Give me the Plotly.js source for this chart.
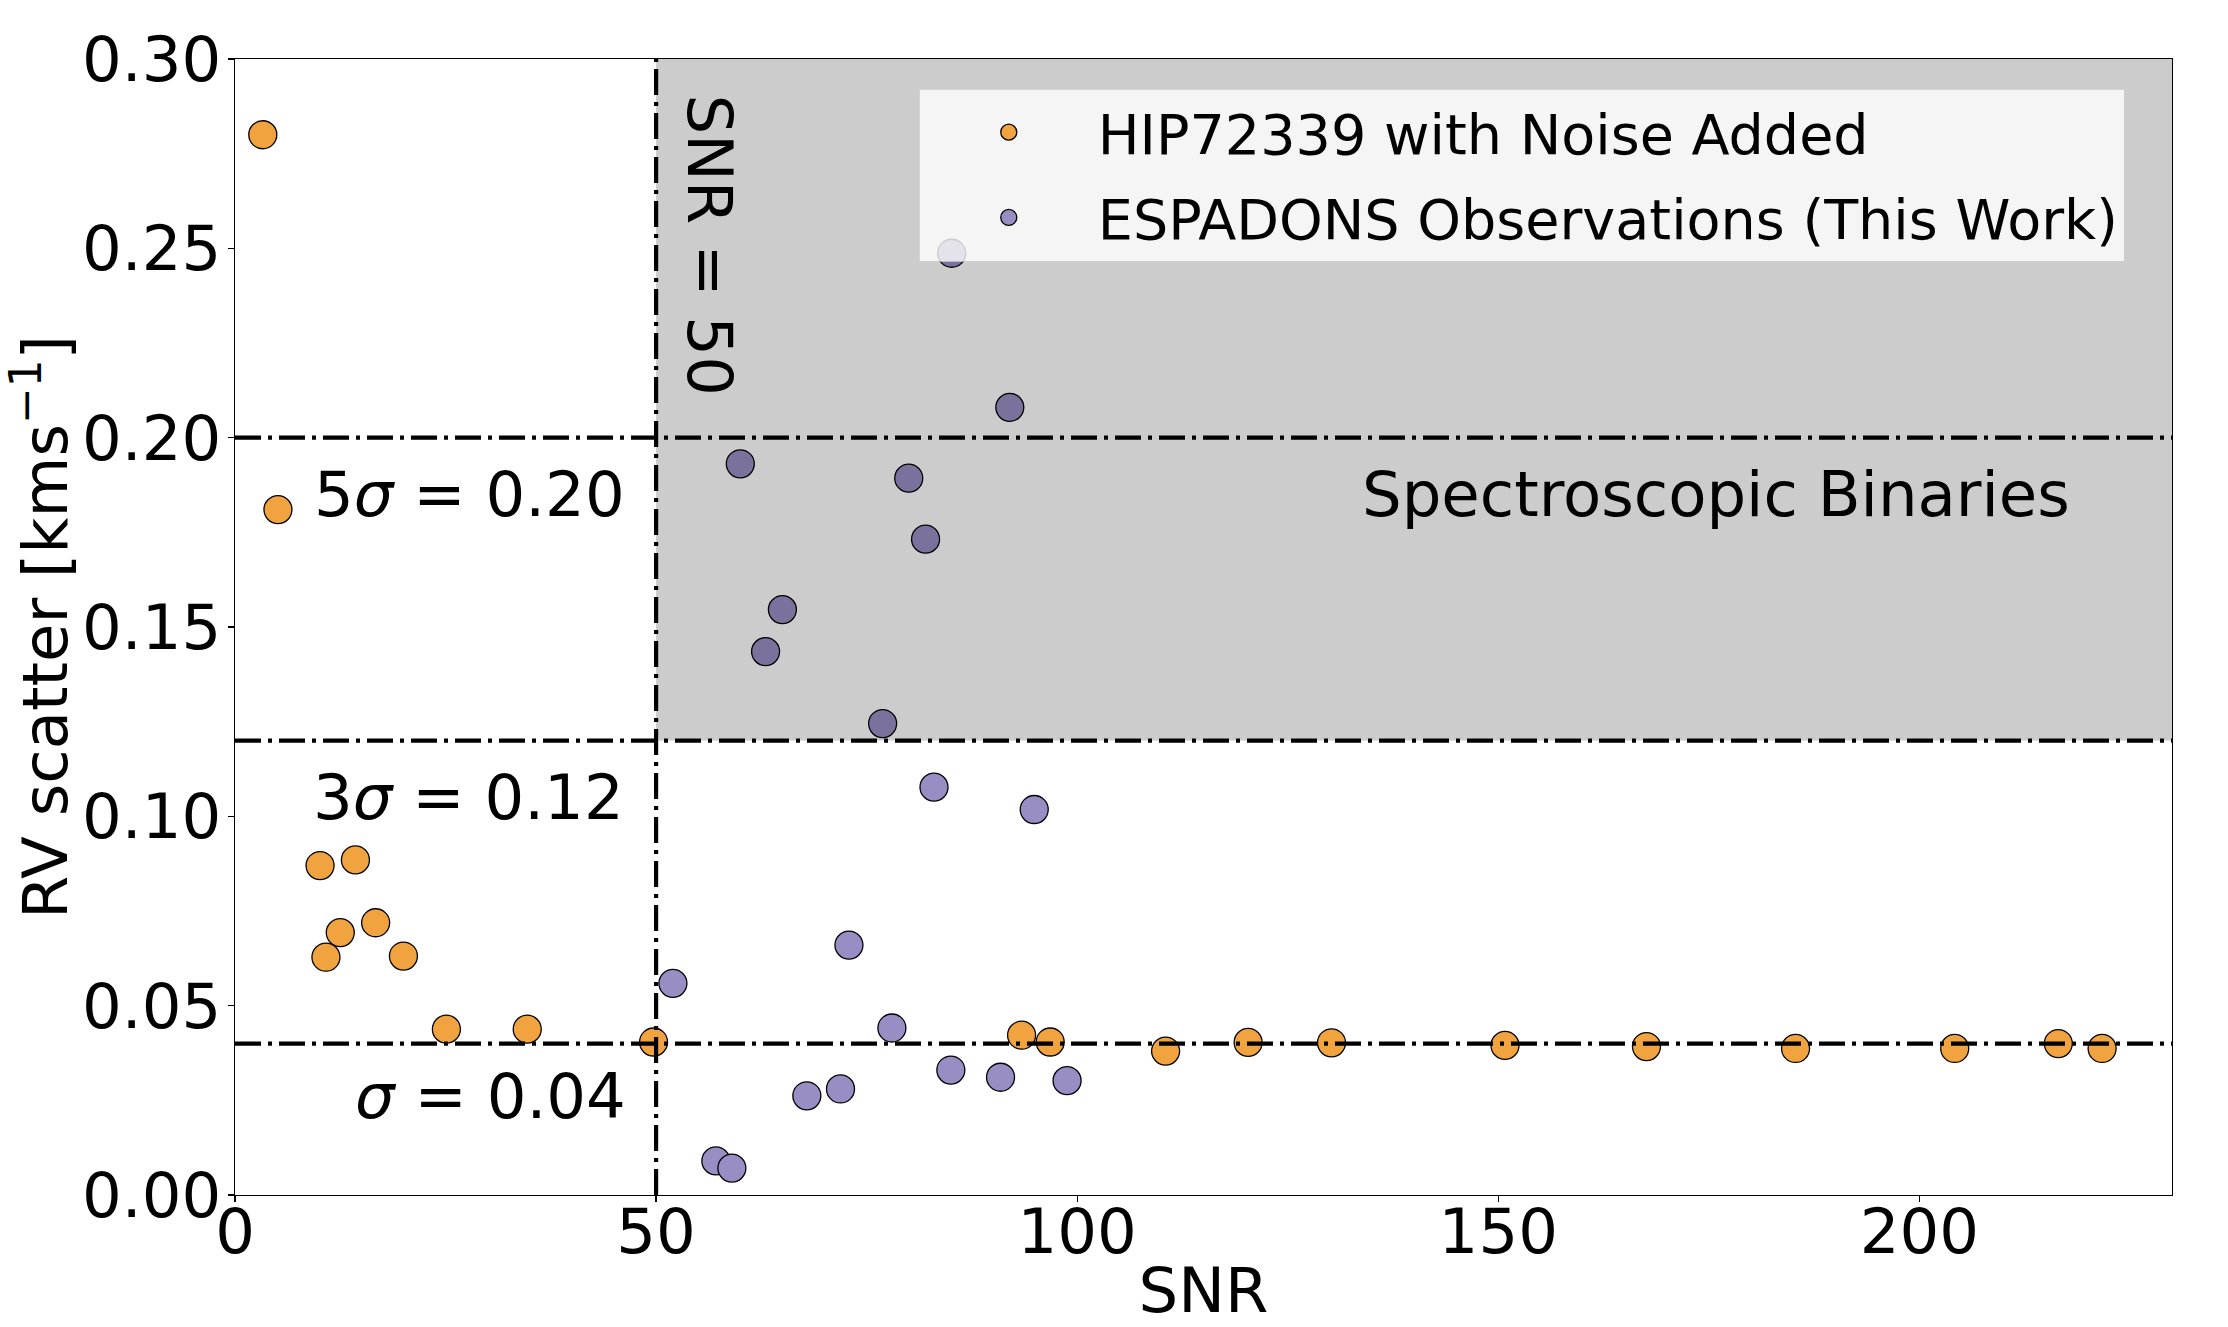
<!DOCTYPE html>
<html>
<head>
<meta charset="utf-8">
<script src="https://cdn.plot.ly/plotly-3.0.1.min.js"></script>
<style>
  html, body { margin: 0; padding: 0; background: #fff; }
  #chart { width: 2228px; height: 1327px; }
</style>
</head>
<body>
<div id="chart"></div>
<script>
// HIP72339 with noise added
const hipSnr = [3.3, 5.1, 10.1, 10.8, 12.5, 14.3, 16.7, 20.0, 25.1, 34.7, 49.7,
  93.4, 96.8, 110.5, 120.3, 130.2, 150.8, 167.6, 185.3, 204.2, 216.5, 221.7];
const hipScatter = [0.280, 0.181, 0.087, 0.0628, 0.0693, 0.0885, 0.0719, 0.0631, 0.0438, 0.0438, 0.0404,
  0.0422, 0.0404, 0.0380, 0.0403, 0.0402, 0.0395, 0.0392, 0.0387, 0.0387, 0.0400, 0.0387];

// ESPADONS observations
const espSnr = [52.0, 57.1, 59.0, 67.9, 71.9, 72.9, 78.0, 85.0, 90.9, 98.8,
  94.9, 83.0, 76.9, 63.0, 65.0, 82.0, 80.0, 60.0, 92.0, 85.1];
const espScatter = [0.0559, 0.0090, 0.0071, 0.0262, 0.0280, 0.0660, 0.0441, 0.0330, 0.0311, 0.0302,
  0.1018, 0.1077, 0.1245, 0.1435, 0.1546, 0.1732, 0.1893, 0.1931, 0.2080, 0.2487];

// thresholds
const sigmaLevels = [0.04, 0.12, 0.20];
const snrCut = 50;
const xMax = 230;
const yMax = 0.30;

const xTicks = [0, 50, 100, 150, 200];
const yTicks = [0, 0.05, 0.10, 0.15, 0.20, 0.25, 0.30];

const FONT = 'DejaVu Sans, sans-serif';
const BIG = 62.5;
const dashDot = '26px,7px,4px,7px';

const markerStyle = function(col) {
  return { color: col, size: 28, line: { color: '#000', width: 1.3 } };
};

const traces = [{
  x: hipSnr, y: hipScatter,
  mode: 'markers', type: 'scatter',
  name: 'HIP72339 with Noise Added',
  legendgroup: 'hip',
  marker: markerStyle('#f1a340'),
  cliponaxis: false
}, {
  x: espSnr, y: espScatter,
  mode: 'markers', type: 'scatter',
  name: 'ESPADONS Observations (This Work)',
  legendgroup: 'esp',
  marker: markerStyle('#998ec3'),
  cliponaxis: false
}];

// shaded region + reference lines
const shapes = [{
  type: 'rect', layer: 'above', xref: 'x', yref: 'y',
  x0: snrCut, x1: xMax, y0: sigmaLevels[1], y1: yMax,
  fillcolor: 'rgba(0,0,0,0.2)', line: { width: 0 }
}];
sigmaLevels.forEach(function(lv) {
  shapes.push({
    type: 'line', layer: 'above', xref: 'x', yref: 'y',
    x0: 0, x1: xMax, y0: lv, y1: lv,
    line: { color: '#000', width: 4.2, dash: dashDot }
  });
});
shapes.push({
  type: 'line', layer: 'above', xref: 'x', yref: 'y',
  x0: snrCut, x1: snrCut, y0: 0, y1: yMax,
  line: { color: '#000', width: 4.2, dash: dashDot }
});

const annFont = { family: FONT, size: BIG, color: '#000' };
const annotations = [
  { x: 46.5, y: 0.185, text: '5<i>σ</i> = 0.20', xanchor: 'right', yanchor: 'middle' },
  { x: 46.4, y: 0.105, text: '3<i>σ</i> = 0.12', xanchor: 'right', yanchor: 'middle' },
  { x: 46.7, y: 0.026, text: '<i>σ</i> = 0.04', xanchor: 'right', yanchor: 'middle' },
  { x: 218.1, y: 0.185, text: 'Spectroscopic Binaries', xanchor: 'right', yanchor: 'middle' },
  { x: 56.3, y: 0.251, text: 'SNR = 50', textangle: 90, xanchor: 'center', yanchor: 'middle' }
].map(function(a) {
  return Object.assign({ xref: 'x', yref: 'y', showarrow: false, font: annFont }, a);
});

const layout = {
  width: 2228, height: 1327,
  margin: { l: 235, r: 56, t: 59, b: 132 },
  paper_bgcolor: '#fff',
  plot_bgcolor: '#fff',
  font: { family: FONT, color: '#000' },
  showlegend: true,
  legend: {
    x: 0.353, y: 0.974, xanchor: 'left', yanchor: 'top',
    bgcolor: 'rgba(255,255,255,0.8)',
    bordercolor: 'rgba(204,204,204,0.8)', borderwidth: 1,
    font: { family: FONT, size: 55.6, color: '#000' },
    itemwidth: 168,
    tracegroupgap: 10
  },
  xaxis: {
    range: [0, xMax],
    tickvals: xTicks,
    ticktext: xTicks.map(String),
    ticks: 'outside', ticklen: 6, tickwidth: 1.3, tickcolor: '#000',
    ticklabelstandoff: -24,
    tickfont: { family: FONT, size: BIG },
    showgrid: false, zeroline: false,
    showline: true, linecolor: '#000', linewidth: 1.3, mirror: true,
    title: { text: 'SNR', font: { family: FONT, size: BIG }, standoff: 28 }
  },
  yaxis: {
    range: [0, yMax],
    tickvals: yTicks,
    ticktext: yTicks.map(function(v) { return v.toFixed(2); }),
    ticks: 'outside', ticklen: 6, tickwidth: 1.3, tickcolor: '#000',
    ticklabelstandoff: -6,
    tickfont: { family: FONT, size: BIG },
    showgrid: false, zeroline: false,
    showline: true, linecolor: '#000', linewidth: 1.3, mirror: true,
    title: { text: 'RV scatter [kms<sup>−1</sup>]', font: { family: FONT, size: BIG }, standoff: 12 }
  },
  shapes: shapes,
  annotations: annotations
};

Plotly.newPlot('chart', traces, layout, { staticPlot: true, displayModeBar: false });
</script>
</body>
</html>
